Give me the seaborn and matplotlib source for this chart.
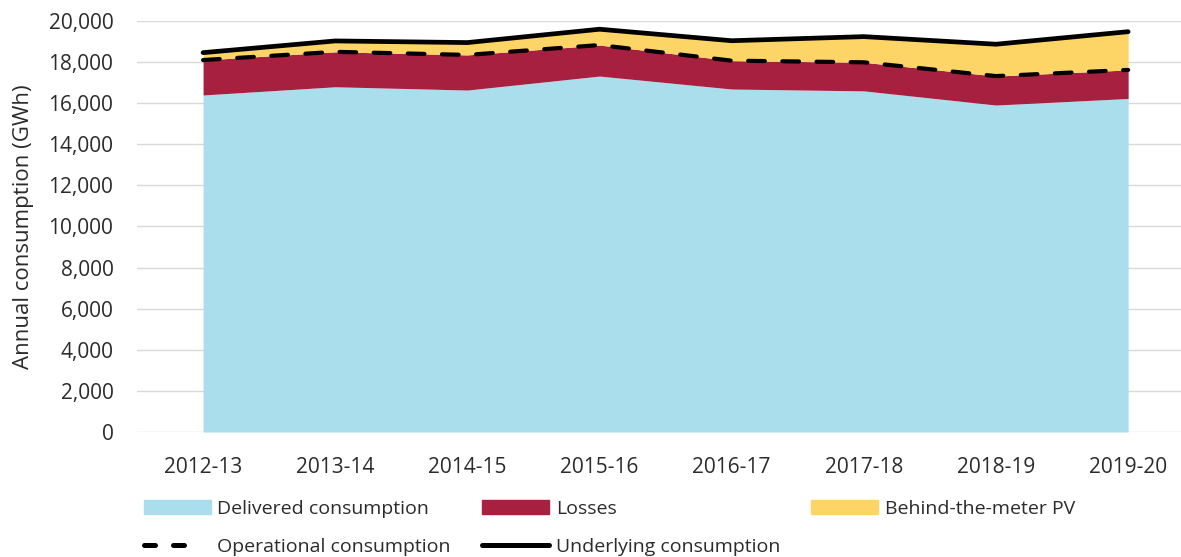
"""Annual consumption by component, stacked area with operational/underlying lines."""

import numpy as np
import pandas as pd
import matplotlib
matplotlib.use("Agg")
import matplotlib.pyplot as plt
import seaborn as sns
from matplotlib.patches import Patch
from matplotlib.lines import Line2D
from matplotlib.ticker import FuncFormatter

years = ["2012-13", "2013-14", "2014-15", "2015-16", "2016-17", "2017-18", "2018-19", "2019-20"]
delivered = [16400, 16800, 16640, 17320, 16690, 16600, 15910, 16230]
losses = [1700, 1700, 1710, 1510, 1380, 1390, 1410, 1390]
behind_pv = [360, 530, 600, 770, 970, 1250, 1550, 1860]

BLUE = "#ABDEEC"
RED = "#A7203F"
YELLOW = "#FDD466"
TEXT = "#2B2B2B"

sns.set_theme(style="whitegrid")
plt.rcParams["font.family"] = ["Open Sans", "DejaVu Sans"]

x = np.arange(len(years))
operational = np.array(delivered) + np.array(losses)
underlying = operational + np.array(behind_pv)
df = pd.DataFrame({"x": x, "operational": operational, "underlying": underlying})

fig = plt.figure(figsize=(11.81, 5.57), dpi=100)
ax = fig.add_axes([137 / 1181, 1 - 432 / 557, 1 - 137 / 1181, 411 / 557])

ax.stackplot(x, delivered, losses, behind_pv, colors=[BLUE, RED, YELLOW], linewidth=0)
sns.lineplot(data=df, x="x", y="underlying", color="black", lw=3.4, ax=ax,
             solid_capstyle="round")
sns.lineplot(data=df, x="x", y="operational", color="black", lw=3.0, ax=ax,
             dashes=False, linestyle=(0, (4, 4.2)), dash_capstyle="round")

ax.set_xlim(-0.5, 7.4)
ax.set_ylim(0, 20000)
ax.set_yticks(range(0, 20001, 2000))
ax.yaxis.set_major_formatter(FuncFormatter(lambda v, p: f"{int(v):,}"))
ax.set_xticks(x)
ax.set_xticklabels(years)
ax.grid(axis="x", visible=False)
ax.grid(axis="y", color="#D9D9D9", lw=1)
ax.set_axisbelow(True)
for s in ax.spines.values():
    s.set_visible(False)
ax.tick_params(axis="both", length=0, labelsize=15, colors=TEXT)
ax.tick_params(axis="x", pad=18)
ax.tick_params(axis="y", pad=17)
ax.set_xlabel("")
ax.set_ylabel("Annual consumption (GWh)", fontsize=16, color=TEXT, labelpad=10)

# legend: two dashes only for the operational handle, as in the source
handles = [
    Patch(color=BLUE, label="Delivered consumption"),
    Line2D([], [], color="black", lw=3.6, dash_capstyle="round",
           linestyle=(0, (2.2, 3.6, 2.2, 30)), label="Operational consumption"),
    Patch(color=RED, label="Losses"),
    Line2D([], [], color="black", lw=3.6, label="Underlying consumption"),
    Patch(color=YELLOW, label="Behind-the-meter PV"),
]
fig.legend(handles=handles, ncol=3, loc="upper left", bbox_to_anchor=(126 / 1181, 1 - 482 / 557),
           frameon=False, fontsize=14, handlelength=3.45, handleheight=0.75,
           handletextpad=0.35, columnspacing=1.6, labelspacing=1.05, labelcolor=TEXT)

fig.savefig("out.png", dpi=100)
